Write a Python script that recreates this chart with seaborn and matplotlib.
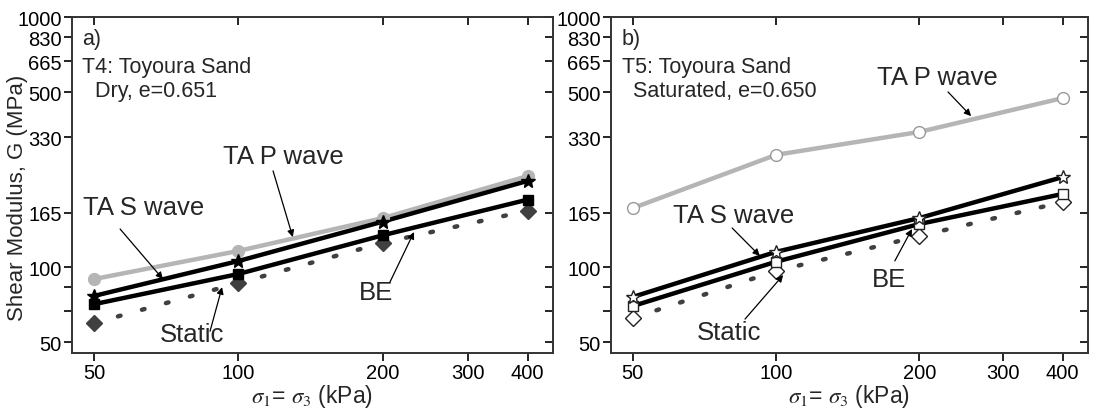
import matplotlib
matplotlib.use("Agg")
import matplotlib.pyplot as plt
import seaborn as sns
import pandas as pd
from matplotlib.ticker import FixedLocator, NullLocator, NullFormatter

sns.set_style("ticks")
plt.rcParams['font.family'] = ['Liberation Sans', 'DejaVu Sans']
plt.rcParams['mathtext.fontset'] = 'stix'

# confining stress (kPa)
sigma = [50, 100, 200, 400]

# T4 dry sample, G in MPa
dry_p = [89.5, 116, 157, 231]
dry_s = [76.6, 105.7, 152, 221]
dry_be = [71, 93.8, 134, 186]
dry_static = [59.7, 86.3, 125, 168]

# T5 saturated sample, G in MPa
sat_p = [172, 281, 347, 474]
sat_s = [75.9, 115, 157, 229]
sat_be = [69.8, 105, 148.6, 196]
sat_static = [62.5, 96.4, 133, 182]

y_ticks = [50, 100, 165, 330, 500, 665, 830, 1000]
y_minor = [66.5, 83]
x_ticks = [50, 100, 200, 300, 400]

W, H = 1093, 410
fig = plt.figure(figsize=(W / 100, H / 100), dpi=100)
ax_a = fig.add_axes([72 / W, 56 / H, 481 / W, 336 / H])
ax_b = fig.add_axes([611 / W, 56 / H, 477 / W, 336 / H])

FS = 15.5
TICK_FS = 14.5
LBL = 18.5
GRAY = "#b5b5b5"
DARK = "#404040"


def draw_series(ax, y, color, marker, face, ls, ms):
    df = pd.DataFrame({"sigma": sigma, "G": y})
    sns.lineplot(data=df, x="sigma", y="G", ax=ax, color=color, lw=3.2,
                 linestyle=ls, dash_capstyle="round", zorder=2)
    edge = color if face != "white" else ("#999999" if color == GRAY else "#222222")
    ax.plot(sigma, y, linestyle="none", marker=marker, ms=ms,
            mfc=face, mec=edge, mew=1.0, zorder=3)


dot = (0, (0.6, 5.0))

# panel a: filled markers
draw_series(ax_a, dry_static, DARK, "D", DARK, dot, 8)
draw_series(ax_a, dry_be, "black", "s", "black", "-", 7.5)
draw_series(ax_a, dry_p, GRAY, "o", GRAY, "-", 8.5)
draw_series(ax_a, dry_s, "black", "*", "black", "-", 10.5)

# panel b: open markers
draw_series(ax_b, sat_static, DARK, "D", "white", dot, 8)
draw_series(ax_b, sat_be, "black", "s", "white", "-", 7.5)
draw_series(ax_b, sat_p, GRAY, "o", "white", "-", 8.5)
draw_series(ax_b, sat_s, "black", "*", "white", "-", 10.5)

for ax in (ax_a, ax_b):
    ax.set_xscale("log")
    ax.set_yscale("log")
    ax.set_xlim(45, 452)
    ax.set_ylim(45.3, 1000)
    ax.xaxis.set_major_locator(FixedLocator(x_ticks))
    ax.xaxis.set_minor_locator(NullLocator())
    ax.set_xticklabels([str(v) for v in x_ticks])
    ax.yaxis.set_major_locator(FixedLocator(y_ticks))
    ax.yaxis.set_minor_locator(FixedLocator(y_minor))
    ax.yaxis.set_minor_formatter(NullFormatter())
    ax.set_yticklabels([str(v) for v in y_ticks])
    ax.tick_params(axis="both", which="both", labelsize=TICK_FS, width=1.2,
                   length=5.5, pad=2, colors="black")
    ax.tick_params(top=True, right=True, which="both")
    for s in ax.spines.values():
        s.set_visible(True)
        s.set_linewidth(1.4)
        s.set_color("#333333")
    ax.set_xlabel(r"$\sigma_1$= $\sigma_3$ (kPa)", fontsize=FS + 1)
    ax.xaxis.set_label_coords(0.5, -0.085)
    ax.set_ylabel("")

# top/right ticks point inward
for ax in (ax_a, ax_b):
    for t in ax.xaxis.get_major_ticks():
        t.tick2line.set_marker(3)
    for t in ax.yaxis.get_major_ticks() + ax.yaxis.get_minor_ticks():
        t.tick2line.set_marker(0)

ax_a.set_ylabel("Shear Modulus, G (MPa)", fontsize=16)
ax_a.yaxis.set_label_coords(-0.091, 0.464)

arrow = dict(arrowstyle="-|>", color="black", lw=0.9, mutation_scale=10, shrinkA=0, shrinkB=0)

# panel a texts
ax_a.text(0.021, 0.935, "a)", transform=ax_a.transAxes, fontsize=FS, va="center")
ax_a.text(0.021, 0.854, "T4: Toyoura Sand", transform=ax_a.transAxes, fontsize=FS, va="center")
ax_a.text(0.048, 0.78, "Dry, e=0.651", transform=ax_a.transAxes, fontsize=FS, va="center")
ax_a.text(0.314, 0.586, "TA P wave", transform=ax_a.transAxes, fontsize=LBL, va="center")
ax_a.text(0.023, 0.435, "TA S wave", transform=ax_a.transAxes, fontsize=LBL, va="center")
ax_a.text(0.183, 0.057, "Static", transform=ax_a.transAxes, fontsize=LBL, va="center")
ax_a.text(0.597, 0.182, "BE", transform=ax_a.transAxes, fontsize=LBL, va="center")
ax_a.annotate("", xy=(0.459, 0.345), xytext=(0.418, 0.542), xycoords="axes fraction", arrowprops=arrow)
ax_a.annotate("", xy=(0.189, 0.220), xytext=(0.100, 0.369), xycoords="axes fraction", arrowprops=arrow)
ax_a.annotate("", xy=(0.312, 0.196), xytext=(0.287, 0.065), xycoords="axes fraction", arrowprops=arrow)
ax_a.annotate("", xy=(0.711, 0.360), xytext=(0.661, 0.211), xycoords="axes fraction", arrowprops=arrow)

# panel b texts
ax_b.text(0.023, 0.935, "b)", transform=ax_b.transAxes, fontsize=FS, va="center")
ax_b.text(0.023, 0.854, "T5: Toyoura Sand", transform=ax_b.transAxes, fontsize=FS, va="center")
ax_b.text(0.046, 0.78, "Saturated, e=0.650", transform=ax_b.transAxes, fontsize=FS, va="center")
ax_b.text(0.558, 0.821, "TA P wave", transform=ax_b.transAxes, fontsize=LBL, va="center")
ax_b.text(0.130, 0.411, "TA S wave", transform=ax_b.transAxes, fontsize=LBL, va="center")
ax_b.text(0.180, 0.0625, "Static", transform=ax_b.transAxes, fontsize=LBL, va="center")
ax_b.text(0.547, 0.220, "BE", transform=ax_b.transAxes, fontsize=LBL, va="center")
ax_b.annotate("", xy=(0.755, 0.705), xytext=(0.7065, 0.777), xycoords="axes fraction", arrowprops=arrow)
ax_b.annotate("", xy=(0.312, 0.289), xytext=(0.254, 0.372), xycoords="axes fraction", arrowprops=arrow)
ax_b.annotate("", xy=(0.361, 0.232), xytext=(0.281, 0.101), xycoords="axes fraction", arrowprops=arrow)
ax_b.annotate("", xy=(0.631, 0.369), xytext=(0.595, 0.274), xycoords="axes fraction", arrowprops=arrow)

fig.savefig("out.png", dpi=100)
